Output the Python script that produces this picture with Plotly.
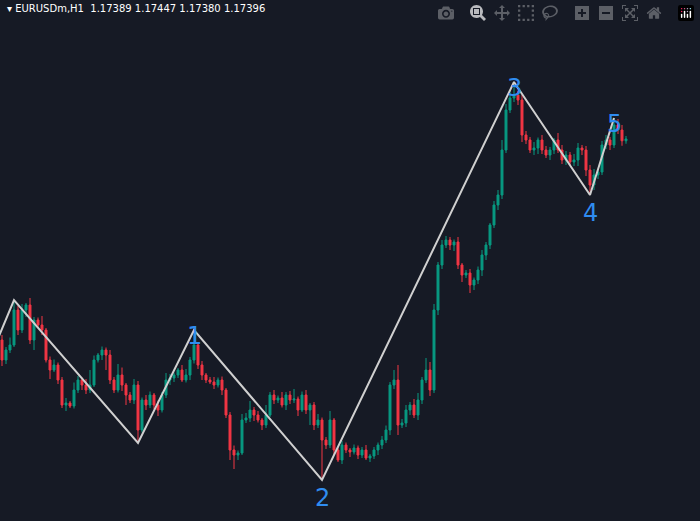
import plotly.graph_objects as go

# closes in points (1e-5)
close_pts = [
116512,116552,116572,116712,116632,116712,116732,116592,116672,116652,
116632,116512,116472,116492,116432,116332,116340,116328,116392,116432,
116412,116392,116412,116512,116532,116552,116532,116432,116392,116452,
116412,116372,116352,116412,116232,116352,116332,116372,116332,116312,
116372,116432,116440,116452,116472,116432,116452,116512,116572,116492,
116452,116432,116424,116412,116432,116392,116292,116152,116132,116140,
116272,116280,116312,116292,116272,116252,116292,116372,116352,116360,
116332,116372,116352,116356,116312,116372,116312,116332,116252,116272,
116192,116172,116272,116152,116112,116172,116152,116144,116160,116132,
116152,116120,116128,116152,116172,116192,116232,116412,116432,116252,
116260,116312,116332,116292,116352,116432,116472,116392,116712,116892,
116972,116992,116972,116984,116892,116852,116860,116812,116832,116872,
116932,116972,117052,117132,117172,117352,117512,117560,117572,117552,
117412,117392,117352,117360,117392,117352,117332,117352,117392,117352,
117312,117332,117304,117312,117360,117352,117272,117212,117252,117264,
117372,117392,117372,117452,117432,117389,117396]
first_open = 116592
upper_wick = [
20,12,30,40,16,24,8,28,12,10, 36,8,14,22,10,12,20,8,30,16,
10,24,60,18,8,14,10,20,12,44, 30,8,12,24,16,10,20,14,8,18,
12,28,16,10,8,20,24,12,60,10, 16,8,12,20,10,14,8,12,18,10,
24,20,36,12,16,8,40,12,20,10, 24,12,16,40,10,14,20,8,12,24,
10,12,36,8,12,16,10,8,14,10, 12,20,8,12,10,16,18,12,40,60,
16,20,12,24,28,12,48,32,24,12, 20,16,12,10,20,8,12,16,10,14,
20,12,8,16,20,40,24,28,52,16, 20,16,12,24,10,20,16,12,8,28,
20,16,12,24,20,12,16,20,24,12, 16,20,12,28,24,20,12]
lower_wick = [
24,16,12,8,20,12,28,16,40,12, 20,10,36,8,16,12,24,8,10,12,
20,16,12,8,10,20,60,16,12,10, 24,40,12,16,52,10,20,12,16,24,
10,12,20,16,12,8,10,20,14,16, 20,12,8,16,10,20,12,40,56,20,
8,12,16,24,10,20,12,8,16,12, 10,20,16,12,24,8,16,60,20,12,
160,16,12,20,8,16,12,20,10,16, 12,8,16,12,20,16,12,20,16,40,
12,16,20,12,20,16,12,24,12,20, 16,12,20,24,16,28,12,32,20,16,
24,20,16,12,20,16,12,12,16,20, 28,16,12,20,24,16,12,20,16,12,
16,20,12,16,24,20,24,40,20,16, 12,16,20,12,16,20,12]

pivot_idx = [-2, 3, 34, 48, 80, 128, 147, 153]
pivot_pts = [116560, 116752, 116180, 116632, 116032, 117624, 117172, 117480]
label_idx = [48, 80, 128, 147, 153]
label_txt = ["1", "2", "3", "4", "5"]
label_side = [1, -1, 1, -1, 1]

n = len(close_pts)
x = list(range(n))
closes = [c / 1e5 for c in close_pts]
opens = [first_open / 1e5] + closes[:-1]
highs = [max(o, c) + u / 1e5 for o, c, u in zip(opens, closes, upper_wick)]
lows = [min(o, c) - l / 1e5 for o, c, l in zip(opens, closes, lower_wick)]

fig = go.Figure()
fig.add_trace(go.Candlestick(
    x=x, open=opens, high=highs, low=lows, close=closes,
    increasing=dict(line=dict(color="#089981", width=1), fillcolor="#089981"),
    decreasing=dict(line=dict(color="#f23645", width=1), fillcolor="#f23645"),
    whiskerwidth=0, showlegend=False, hoverinfo="skip"))
fig.add_trace(go.Scatter(x=pivot_idx, y=[p / 1e5 for p in pivot_pts], mode="lines",
                         line=dict(color="#d0d0d0", width=2), showlegend=False, hoverinfo="skip"))
pv = dict(zip(pivot_idx, pivot_pts))
for i, t, s in zip(label_idx, label_txt, label_side):
    fig.add_annotation(x=i, y=pv[i] / 1e5, text=t, showarrow=False,
                       yshift=-6 if s > 0 else -18, yanchor="middle",
                       font=dict(family="DejaVu Sans", size=24, color="#2f8cf0"))
fig.add_annotation(x=0.007, y=0.998, xref="paper", yref="paper", xanchor="left", yanchor="top",
                   text="▾ EURUSDm,H1  1.17389 1.17447 1.17380 1.17396", showarrow=False,
                   font=dict(family="DejaVu Sans", size=10, color="#ffffff"))
fig.update_layout(
    width=700, height=521, margin=dict(l=0, r=0, t=0, b=0),
    paper_bgcolor="#161a25", plot_bgcolor="#161a25",
    xaxis=dict(range=[-0.5, 174.5], visible=False, rangeslider=dict(visible=False)),
    yaxis=dict(range=[1.15868, 1.17952], visible=False))
fig.write_html("out.html")

with open("out.html", encoding="utf-8") as f:
    html = f.read()
html = html.replace("<body>", '<body style="margin:0;padding:0;background:#161a25;overflow:hidden">', 1)
with open("out.html", "w", encoding="utf-8") as f:
    f.write(html)
